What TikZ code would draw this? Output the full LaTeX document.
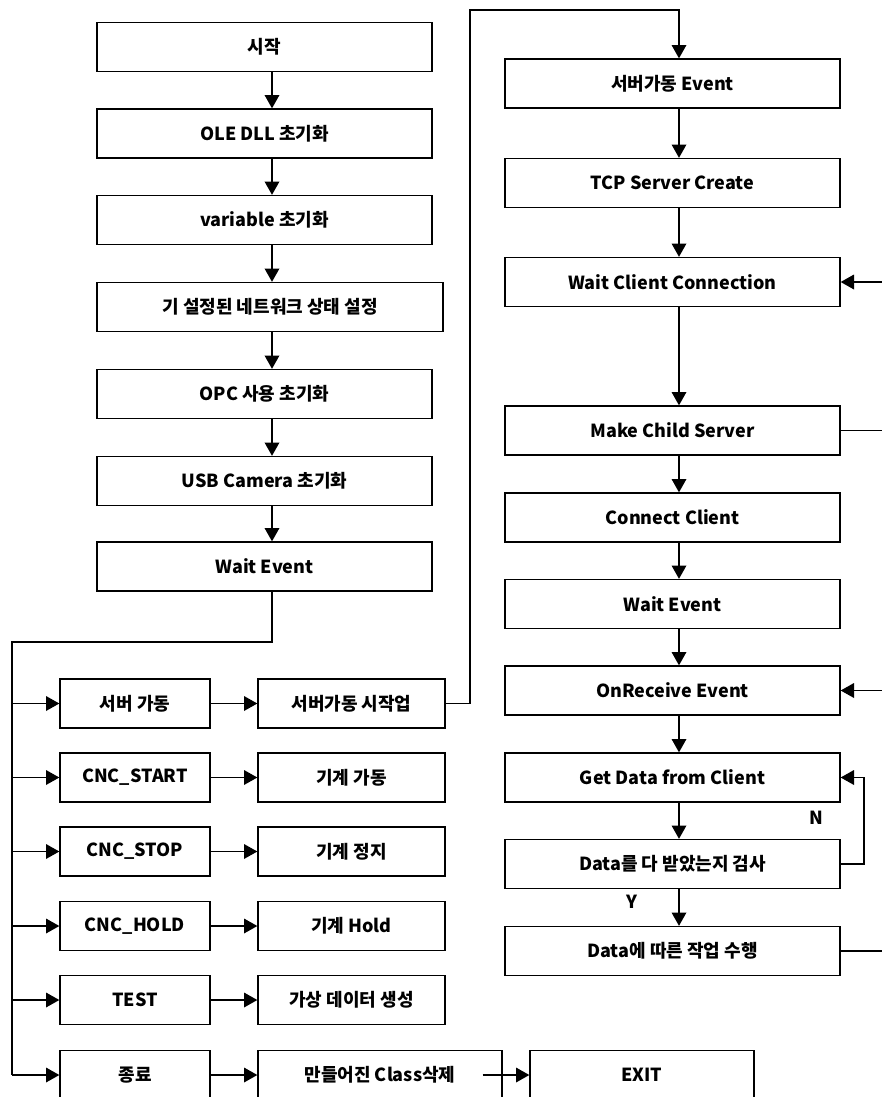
\documentclass[tikz,border=0pt]{standalone}
\usepackage{fontspec}
\setmainfont{Noto Sans CJK KR}
\usetikzlibrary{arrows.meta}
\begin{document}
\begin{tikzpicture}[x=0.75pt,y=-0.75pt,
  font=\bfseries\fontsize{13.5}{16}\selectfont,
  box/.style={draw, line width=1pt, inner sep=0pt, minimum height=49*0.75pt, minimum width=#1*0.75pt},
  ln/.style={line width=1pt},
  arr/.style={line width=1pt, -{Triangle[length=10pt,width=11pt]}},
  lbl/.style={inner sep=0pt}]
\useasboundingbox (0,0) rectangle (882,1097);
% left column
\node[box=335] (s1) at (264.5,47) {시작};
\node[box=335] (s2) at (264.5,133.5) {OLE DLL 초기화};
\node[box=335] (s3) at (264.5,220) {variable 초기화};
\node[box=346] (s4) at (270,307) {기 설정된 네트워크 상태 설정};
\node[box=335] (s5) at (264.5,394) {OPC 사용 초기화};
\node[box=335] (s6) at (264.5,481) {USB Camera 초기화};
\node[box=335] (s7) at (264.5,566.5) {Wait Event};
\coordinate (lx) at (272,0);
\draw[arr] (s1.south -| lx) -- (s2.north -| lx);
\draw[arr] (s2.south -| lx) -- (s3.north -| lx);
\draw[arr] (s3.south -| lx) -- (s4.north -| lx);
\draw[arr] (s4.south -| lx) -- (s5.north -| lx);
\draw[arr] (s5.south -| lx) -- (s6.north -| lx);
\draw[arr] (s6.south -| lx) -- (s7.north -| lx);
% event rows
\node[box=150] (a1) at (135,703.5) {서버 가동};
\node[box=150] (a2) at (135,777.5) {CNC\_START};
\node[box=150] (a3) at (135,851.5) {CNC\_STOP};
\node[box=150] (a4) at (135,926) {CNC\_HOLD};
\node[box=150] (a5) at (135,1000) {TEST};
\node[box=150] (a6) at (135,1075) {종료};
\node[box=187] (b1) at (351.5,703.5) {서버가동 시작업};
\node[box=187] (b2) at (351.5,777.5) {기계 가동};
\node[box=187] (b3) at (351.5,851.5) {기계 정지};
\node[box=187] (b4) at (351.5,926) {기계 Hold};
\node[box=187] (b5) at (351.5,1000) {가상 데이터 생성};
\node[box=244] (b6) at (380,1075) {만들어진 Class삭제};
\node[box=224] (ex) at (642,1075) {EXIT};
\coordinate (split) at (12,642);
\coordinate (bus) at (12,1075);
\draw[ln] (s7.south -| lx) |- (split) -- (bus);
\foreach \n in {a1,a2,a3,a4,a5,a6}{
  \draw[arr] (\n.west -| split) -- (\n.west);
}
\draw[arr] (a1.east) -- (b1.west);
\draw[arr] (a2.east) -- (b2.west);
\draw[arr] (a3.east) -- (b3.west);
\draw[arr] (a4.east) -- (b4.west);
\draw[arr] (a5.east) -- (b5.west);
\draw[arr] (a6.east) -- (b6.west);
\draw[arr] ([xshift=-15pt]b6.east) -- (ex.west);
% right column
\node[box=335] (r1) at (672.5,83.5) {서버가동 Event};
\node[box=335] (r2) at (672.5,183) {TCP Server Create};
\node[box=335] (r3) at (672.5,282) {Wait Client Connection};
\node[box=335] (r4) at (672.5,430.5) {Make Child Server};
\node[box=335] (r5) at (672.5,517.5) {Connect Client};
\node[box=335] (r6) at (672.5,604) {Wait Event};
\node[box=335] (r7) at (672.5,690.5) {OnReceive Event};
\node[box=335] (r8) at (672.5,777.5) {Get Data from Client};
\node[box=335] (r9) at (672.5,864) {Data를 다 받았는지 검사};
\node[box=335] (r10) at (672.5,951) {Data에 따른 작업 수행};
\coordinate (rx) at (679,0);
\coordinate (eR) at (882,0);
\coordinate (top) at (470,10);
\draw[arr] (b1.east) -| (top) -| (r1.north -| rx);
\draw[arr] (r1.south -| rx) -- (r2.north -| rx);
\draw[arr] (r2.south -| rx) -- (r3.north -| rx);
\draw[arr] (r3.south -| rx) -- (r4.north -| rx);
\draw[arr] (r4.south -| rx) -- (r5.north -| rx);
\draw[arr] (r5.south -| rx) -- (r6.north -| rx);
\draw[arr] (r6.south -| rx) -- (r7.north -| rx);
\draw[arr] (r7.south -| rx) -- (r8.north -| rx);
\draw[arr] (r8.south -| rx) -- (r9.north -| rx);
\draw[arr] (r9.south -| rx) -- (r10.north -| rx);
\draw[arr] (r3.east -| eR) -- (r3.east);
\draw[ln] (r4.east) -- (r4.east -| eR);
\draw[arr] (r7.east -| eR) -- (r7.east);
\draw[ln] (r10.east) -- (r10.east -| eR);
\coordinate (lp) at (864,820);
\draw[arr] (r9.east) -| (lp) |- (r8.east);
\node[lbl] (nlab) at (816,818) {N};
\node[lbl] (ylab) at (632,902) {Y};
\end{tikzpicture}
\end{document}
